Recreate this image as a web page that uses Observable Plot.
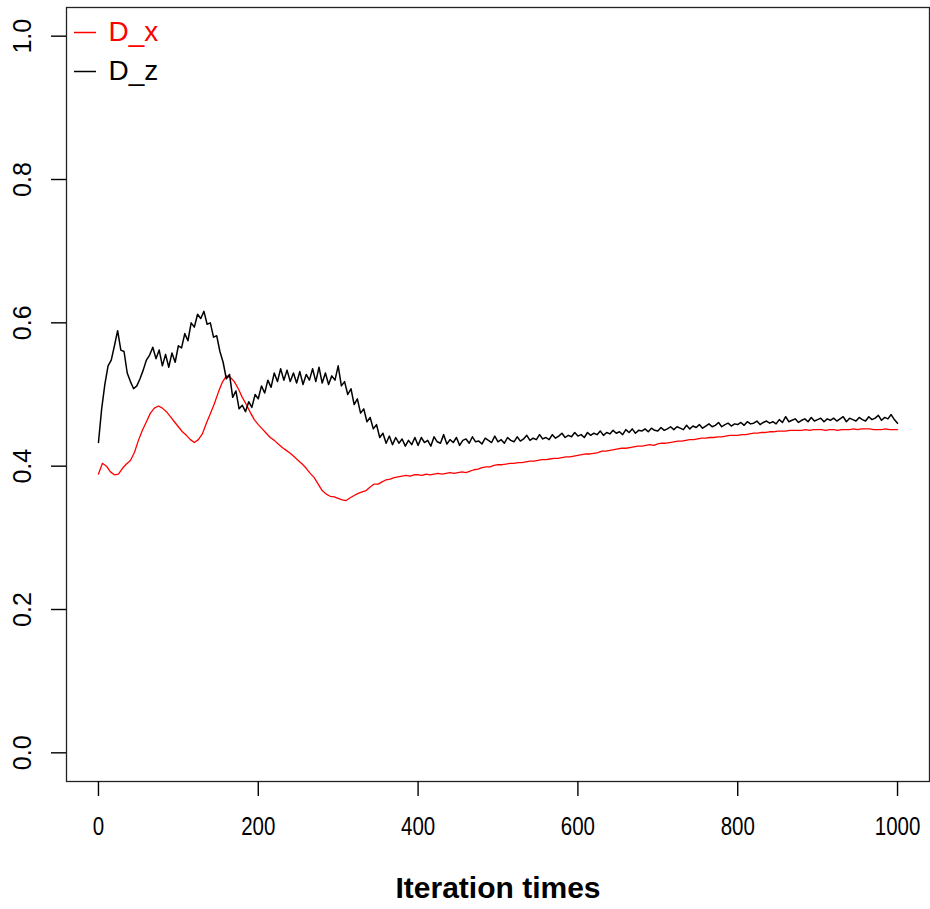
<!DOCTYPE html>
<html><head><meta charset="utf-8">
<script src="https://cdn.jsdelivr.net/npm/d3@7"></script>
<script src="https://cdn.jsdelivr.net/npm/@observablehq/plot@0.6"></script>
<style>body{margin:0;background:#fff} svg{display:block}</style>
</head><body><div id="chart"></div>
<script>
const xTicks = [0, 200, 400, 600, 800, 1000];
const yTicks = [0, 0.2, 0.4, 0.6, 0.8, 1.0];
const yTickLabels = ["0.0", "0.2", "0.4", "0.6", "0.8", "1.0"];
const seriesNames = ["D_x", "D_z"];
const seriesColors = ["#ff0000", "#000000"];
const xLabel = "Iteration times";

// D_x, read every 5 iterations (0..1000)
const dxStep = 5;
const dxValues = [
0.389,0.404,0.400,0.392,0.388,0.389,0.397,0.403,0.408,0.419,
0.436,0.450,0.462,0.474,0.481,0.484,0.481,0.476,0.469,0.462,
0.455,0.448,0.443,0.437,0.433,0.437,0.445,0.460,0.473,0.487,
0.503,0.517,0.526,0.524,0.518,0.508,0.496,0.486,0.475,0.465,
0.458,0.452,0.446,0.440,0.436,0.431,0.426,0.422,0.418,0.413,
0.408,0.403,0.397,0.390,0.384,0.375,0.366,0.361,0.358,0.357,
0.355,0.353,0.352,0.356,0.359,0.362,0.364,0.366,0.371,0.375,
0.375,0.378,0.381,0.382,0.384,0.385,0.386,0.387,0.386,0.388,
0.388,0.387,0.389,0.388,0.389,0.390,0.389,0.390,0.391,0.390,
0.391,0.392,0.391,0.393,0.395,0.396,0.398,0.399,0.399,0.401,
0.402,0.402,0.403,0.404,0.404,0.405,0.405,0.406,0.407,0.407,
0.408,0.409,0.409,0.410,0.411,0.411,0.412,0.413,0.413,0.414,
0.415,0.416,0.417,0.417,0.418,0.419,0.421,0.421,0.422,0.423,
0.424,0.425,0.425,0.426,0.427,0.428,0.428,0.429,0.430,0.429,
0.431,0.432,0.432,0.433,0.434,0.435,0.435,0.436,0.437,0.437,
0.438,0.439,0.439,0.440,0.440,0.441,0.441,0.442,0.443,0.443,
0.443,0.444,0.444,0.445,0.446,0.446,0.447,0.447,0.448,0.448,
0.449,0.449,0.449,0.450,0.450,0.450,0.450,0.451,0.450,0.451,
0.451,0.451,0.450,0.451,0.451,0.450,0.451,0.451,0.451,0.452,
0.451,0.452,0.452,0.452,0.451,0.451,0.451,0.452,0.451,0.451,
0.451
];

// D_z, read every 4 iterations (0..1000)
const dzStep = 4;
const dzValues = [
0.433,0.480,0.514,0.540,0.548,0.568,0.589,0.562,0.560,0.530,
0.518,0.508,0.512,0.522,0.534,0.548,0.555,0.566,0.550,0.562,
0.540,0.556,0.538,0.558,0.545,0.568,0.565,0.585,0.575,0.600,
0.594,0.612,0.606,0.616,0.598,0.600,0.580,0.582,0.560,0.545,
0.522,0.528,0.496,0.505,0.480,0.485,0.476,0.490,0.482,0.500,
0.494,0.512,0.502,0.520,0.510,0.530,0.518,0.536,0.520,0.534,
0.518,0.530,0.516,0.532,0.514,0.528,0.520,0.536,0.518,0.538,
0.516,0.530,0.514,0.526,0.520,0.540,0.512,0.518,0.500,0.508,
0.486,0.494,0.474,0.480,0.462,0.468,0.452,0.458,0.440,0.446,
0.432,0.442,0.430,0.440,0.432,0.438,0.428,0.436,0.430,0.440,
0.429,0.440,0.433,0.436,0.428,0.441,0.434,0.432,0.444,0.431,
0.437,0.433,0.440,0.429,0.436,0.438,0.432,0.441,0.434,0.435,
0.431,0.439,0.436,0.433,0.442,0.434,0.437,0.432,0.440,0.436,
0.434,0.441,0.435,0.438,0.443,0.436,0.439,0.437,0.444,0.438,
0.440,0.437,0.444,0.439,0.442,0.446,0.440,0.443,0.441,0.447,
0.442,0.444,0.440,0.447,0.443,0.446,0.444,0.449,0.443,0.447,
0.445,0.450,0.446,0.448,0.444,0.451,0.447,0.452,0.446,0.450,
0.449,0.452,0.448,0.453,0.450,0.449,0.454,0.450,0.452,0.455,
0.451,0.455,0.453,0.451,0.457,0.452,0.456,0.454,0.458,0.453,
0.456,0.459,0.455,0.457,0.461,0.455,0.458,0.460,0.456,0.459,
0.458,0.461,0.457,0.462,0.459,0.460,0.463,0.458,0.461,0.463,
0.460,0.462,0.459,0.465,0.461,0.469,0.462,0.464,0.466,0.461,
0.464,0.466,0.462,0.468,0.463,0.465,0.467,0.462,0.466,0.464,
0.467,0.463,0.466,0.469,0.462,0.467,0.465,0.463,0.468,0.465,
0.463,0.469,0.465,0.467,0.471,0.464,0.468,0.466,0.472,0.465,
0.460
];

const dxData = dxValues.map((v, i) => ({iter: i * dxStep, value: v}));
const dzData = dzValues.map((v, i) => ({iter: i * dzStep, value: v}));

const tickFamily = "'Liberation Sans', Arial, sans-serif";
const tickFontSize = 25;
const squeeze = 0.82;

const plot = Plot.plot({
  width: 930, height: 909,
  marginLeft: 66, marginRight: 1, marginTop: 7, marginBottom: 128,
  x: {domain: [-40, 1040]},
  y: {domain: [-0.04, 1.04]},
  style: {fontFamily: "'Liberation Sans', Arial, sans-serif", background: "#fff", overflow: "visible", color: "#000"},
  marks: [
    Plot.frame({stroke: "#222", strokeWidth: 1.3}),
    Plot.axisX({ticks: xTicks, tickSize: 15, tickPadding: 21, tickFormat: d => String(d), label: null,
      fontSize: tickFontSize, fontFamily: tickFamily, strokeWidth: 1.4}),
    Plot.axisY({ticks: yTicks, tickSize: 15, tickFormat: () => "", label: null, strokeWidth: 1.4}),
    Plot.text(yTicks, {y: d => d, frameAnchor: "left", dx: -44, text: (d, i) => yTickLabels[i], ariaLabel: "y-tick-text",
      rotate: -90, textAnchor: "middle", lineAnchor: "middle", fontSize: tickFontSize, fontFamily: tickFamily}),
    Plot.line(dxData, {x: "iter", y: "value", stroke: seriesColors[0], strokeWidth: 1.3}),
    Plot.line(dzData, {x: "iter", y: "value", stroke: seriesColors[1], strokeWidth: 1.5}),
    Plot.text([xLabel], {frameAnchor: "bottom", dy: 107, fontWeight: "bold", fontSize: 30, lineAnchor: "middle", textAnchor: "middle"}),
    Plot.text([seriesNames[0]], {frameAnchor: "top-left", dx: 42, dy: 25, fill: seriesColors[0], fontSize: 28, textAnchor: "start", lineAnchor: "middle"}),
    Plot.text([seriesNames[1]], {frameAnchor: "top-left", dx: 42, dy: 64, fill: seriesColors[1], fontSize: 28, textAnchor: "start", lineAnchor: "middle"})
  ]
});

const svg = d3.select(plot);
// narrow the tick label glyphs like the reference's condensed Helvetica
svg.selectAll('g[aria-label="x-axis tick label"] text, g[aria-label="y-tick-text"] text').each(function() {
  const t = this.getAttribute("transform") || "";
  this.setAttribute("transform", t + ` scale(${squeeze},1)`);
});
seriesNames.forEach((n, i) => {
  svg.append("line")
    .attr("x1", 74).attr("x2", 96)
    .attr("y1", 32.5 + i * 39).attr("y2", 32.5 + i * 39)
    .attr("stroke", seriesColors[i]).attr("stroke-width", 1.5);
});
document.getElementById("chart").appendChild(plot);
</script>
</body></html>
